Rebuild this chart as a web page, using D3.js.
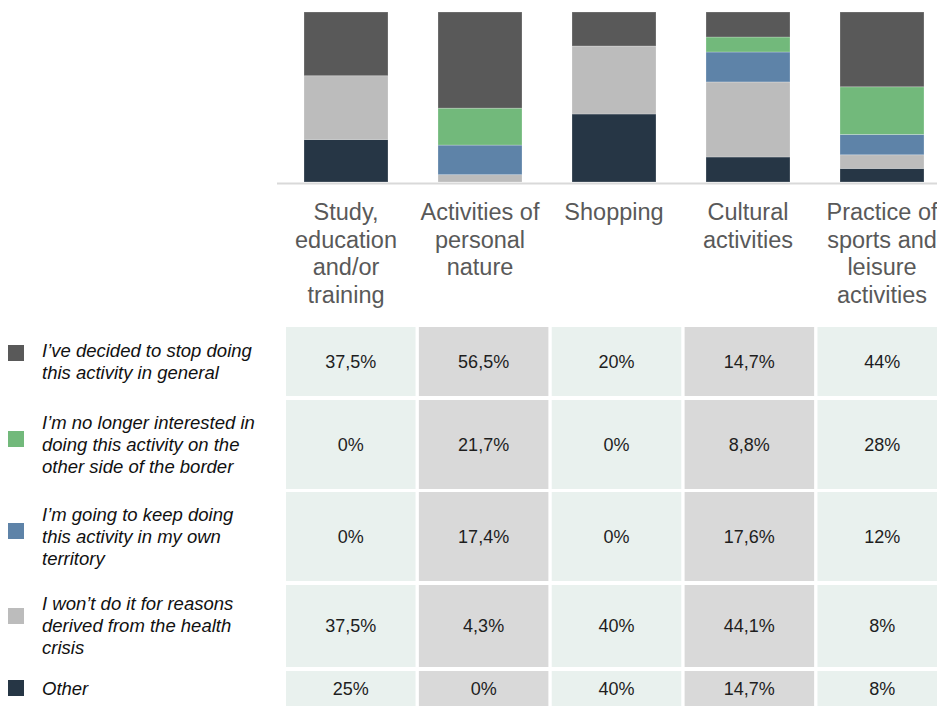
<!DOCTYPE html>
<html>
<head>
<meta charset="utf-8">
<script src="https://cdn.jsdelivr.net/npm/d3@7"></script>
<style>
	html, body { margin: 0; padding: 0; background: #fff; overflow: hidden; }
	text { font-family: "Liberation Sans", Arial, sans-serif; }
</style>
</head>
<body>
<div id="viz"></div>
<script>
// categories, one label line per entry
var categories = ["Study", "Personal", "Shopping", "Cultural", "Sports"];
var categoryLines = [
	["Study,", "education", "and/or", "training"],
	["Activities of", "personal", "nature"],
	["Shopping"],
	["Cultural", "activities"],
	["Practice of", "sports and", "leisure", "activities"]
];

// series (percent)
var seriesKeys = ["stop", "noInterest", "ownTerritory", "health", "other"];
var stopGeneral   = [37.5, 56.5, 20, 14.7, 44];
var noInterest    = [0, 21.7, 0, 8.8, 28];
var ownTerritory  = [0, 17.4, 0, 17.6, 12];
var healthCrisis  = [37.5, 4.3, 40, 44.1, 8];
var other         = [25, 0, 40, 14.7, 8];

var seriesLabels = [
	["I\u2019ve decided to stop doing", "this activity in general"],
	["I\u2019m no longer interested in", "doing this activity on the", "other side of the border"],
	["I\u2019m going to keep doing", "this activity in my own", "territory"],
	["I won\u2019t do it for reasons", "derived from the health", "crisis"],
	["Other"]
];
var seriesColors = ["#595959", "#72b97b", "#5e83a8", "#bcbcbc", "#263645"];

// layout
var W = 937, H = 706;
var BAR_TOP = 12, BAR_BOTTOM = 182;
var ROW_TOPS = [327, 400, 492, 585, 671];
var ROW_HEIGHTS = [69, 89, 89, 82, 36];
var LEGEND_SQ_TOPS = [345, 431, 523, 608, 680];
var SQ = 16;
var LEGEND_LINE = 22;
var CAT_LINE = 27.5;

var valuesBySeries = {
	stop: stopGeneral,
	noInterest: noInterest,
	ownTerritory: ownTerritory,
	health: healthCrisis,
	other: other
};

// table for d3.stack
var rows = categories.map(function(c, i) {
	var r = { cat: c };
	seriesKeys.forEach(function(k) { r[k] = valuesBySeries[k][i]; });
	return r;
});

var colorOf = d3.scaleOrdinal().domain(seriesKeys).range(seriesColors);

// stacked bottom to top: other, health, ownTerritory, noInterest, stop
var stack = d3.stack()
	.keys(seriesKeys.slice().reverse())
	.offset(d3.stackOffsetExpand);
var layers = stack(rows);

var x = d3.scaleBand()
	.domain(categories)
	.range([279, 279 + 5 * 134])
	.paddingInner(50 / 134)
	.paddingOuter(25 / 134);

var y = d3.scaleLinear()
	.domain([0, 1])
	.range([BAR_BOTTOM, BAR_TOP]);

var svg = d3.select("#viz").append("svg")
	.attr("width", W)
	.attr("height", H);

// bars
svg.append("g").selectAll("g")
	.data(layers)
	.join("g")
	.attr("fill", function(d) { return colorOf(d.key); })
	.selectAll("rect")
	.data(function(d) { return d; })
	.join("rect")
	.attr("x", function(d) { return x(d.data.cat); })
	.attr("y", function(d) { return y(d[1]); })
	.attr("width", x.bandwidth())
	.attr("height", function(d) { return y(d[0]) - y(d[1]); })
	.attr("stroke", "rgba(255,255,255,0.3)")
	.attr("stroke-width", 0.8);

// baseline
svg.append("line")
	.attr("x1", 277).attr("x2", W)
	.attr("y1", BAR_BOTTOM + 1.5).attr("y2", BAR_BOTTOM + 1.5)
	.attr("stroke", "#d9d9d9")
	.attr("stroke-width", 2);

// category labels
var catG = svg.append("g").selectAll("text")
	.data(categories)
	.join("text")
	.attr("x", function(d) { return x(d) + x.bandwidth() / 2; })
	.attr("y", 220)
	.attr("text-anchor", "middle")
	.attr("font-size", 23.5)
	.attr("fill", "#595959");

catG.each(function(d, i) {
	var t = d3.select(this);
	categoryLines[i].forEach(function(line, j) {
		t.append("tspan")
			.attr("x", x(d) + x.bandwidth() / 2)
			.attr("y", 220 + j * CAT_LINE)
			.text(line);
	});
});

// table
var col = d3.scaleBand()
	.domain(categories)
	.range([286, 947])
	.paddingInner(0.025);

var fmt = function(v) { return String(v).replace(".", ",") + "%"; };

var tableG = svg.append("g");
seriesKeys.forEach(function(k, r) {
	var rowG = tableG.append("g");
	rowG.selectAll("rect")
		.data(categories)
		.join("rect")
		.attr("x", function(d) { return col(d); })
		.attr("y", ROW_TOPS[r])
		.attr("width", col.bandwidth())
		.attr("height", ROW_HEIGHTS[r])
		.attr("fill", function(d, i) { return i % 2 == 0 ? "#e9f1ee" : "#d9d9d9"; });

	rowG.selectAll("text")
		.data(categories)
		.join("text")
		.attr("x", function(d) { return col(d) + col.bandwidth() / 2; })
		.attr("y", ROW_TOPS[r] + ROW_HEIGHTS[r] / 2)
		.attr("dy", "0.35em")
		.attr("text-anchor", "middle")
		.attr("font-size", 18)
		.attr("fill", "#1e1e1e")
		.text(function(d, i) { return fmt(valuesBySeries[k][i]); });

	// legend
	svg.append("rect")
		.attr("x", 8)
		.attr("y", LEGEND_SQ_TOPS[r])
		.attr("width", SQ)
		.attr("height", SQ)
		.attr("fill", colorOf(k));

	var lines = seriesLabels[r];
	var cy = ROW_TOPS[r] + ROW_HEIGHTS[r] / 2;
	var first = cy - (lines.length - 1) * LEGEND_LINE / 2 + 6;
	var lt = svg.append("text")
		.attr("font-size", 18.5)
		.attr("font-style", "italic")
		.attr("fill", "#111");
	lines.forEach(function(line, j) {
		lt.append("tspan")
			.attr("x", 42)
			.attr("y", first + j * LEGEND_LINE)
			.text(line);
	});
});
</script>
</body>
</html>
